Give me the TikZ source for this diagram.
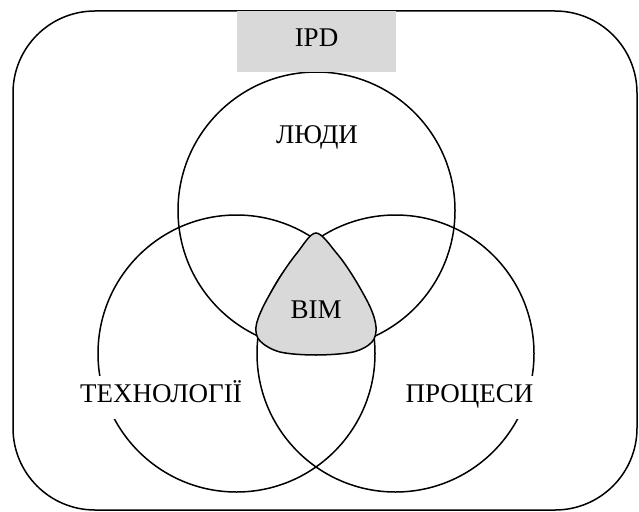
\documentclass[tikz,border=0pt]{standalone}
\usepackage{fontspec}
\setmainfont{Liberation Serif}
\usetikzlibrary{positioning}
\definecolor{boxgray}{HTML}{D9D9D9}

\begin{document}
\begin{tikzpicture}[x=1pt,y=-1pt,line width=1.5pt,
 ring/.style={draw,circle,minimum size=277pt,inner sep=0pt},
 tag/.style={font=\fontsize{27}{30}\selectfont,fill=white,inner sep=4pt,
  text height=20pt,text depth=10pt,minimum height=43pt}]
 \useasboundingbox (0,0) rectangle (639,511);
 % outer frame
 \draw[rounded corners=82pt] (13,11) rectangle (637,510);

 % the three sets
 \node[ring] (people) at (316.5,210.5) {};
 \node[ring] (tech) at (236.5,353.5) {};
 \node[ring] (proc) at (395.5,353.5) {};

 % common part
 \draw[fill=boxgray] plot[smooth cycle,tension=0.55] coordinates {
  (316,233) (336.7,253.3) (353.3,276.7) (370,306.7) (376,327) (372,342)
  (353,352) (316,355) (280,352) (260,341) (256,327) (263,307)
  (280,277) (297,253)};

 \node[tag] (peoplelbl) at (317,138) {ЛЮДИ};
 \node[tag] (techlbl) at (161,397) {ТЕХНОЛОГІЇ};
 \node[tag] (proclbl) at (469.5,397) {ПРОЦЕСИ};
 \node[tag,fill=none] (bim) at (316,313) {BIM};
 \node[tag,fill=boxgray,inner sep=0pt,minimum width=159pt,minimum height=61pt]
  (ipd) at (316.5,41.5) {IPD};
\end{tikzpicture}
\end{document}
